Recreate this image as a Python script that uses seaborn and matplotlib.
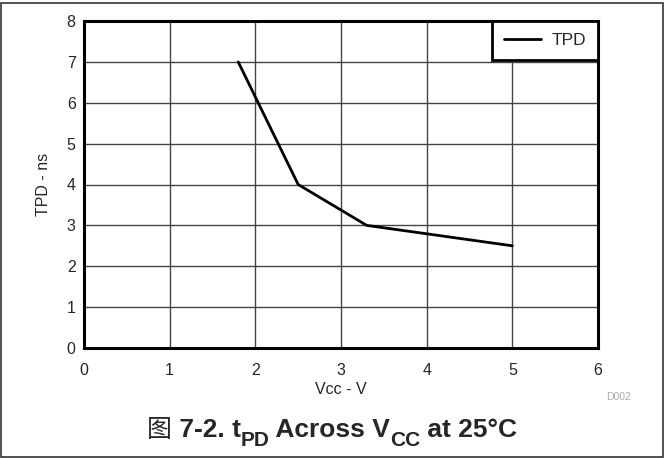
import pandas as pd
import seaborn as sns
import matplotlib.pyplot as plt
from matplotlib.patches import Rectangle

vcc = [1.8, 2.5, 3.3, 5.0]
tpd = [7.0, 4.0, 3.0, 2.5]
x_ticks = [0, 1, 2, 3, 4, 5, 6]
y_ticks = [0, 1, 2, 3, 4, 5, 6, 7, 8]

df = pd.DataFrame({'Vcc': vcc, 'TPD': tpd})

sns.set_style('white')
plt.rcParams['font.family'] = ['Liberation Sans', 'Noto Sans CJK SC']

fig = plt.figure(figsize=(6.64, 4.58), dpi=100)
ax = fig.add_axes([84 / 664, 1 - 348 / 458, 514 / 664, 327 / 458])

sns.lineplot(df, x='Vcc', y='TPD', ax=ax, color='black', linewidth=2, label='TPD')

ax.set_xlim(0, 6)
ax.set_ylim(0, 8)
ax.set_xticks(x_ticks)
ax.set_yticks(y_ticks)
ax.grid(True, color='#444444', linewidth=1)
ax.tick_params(length=0, labelsize=11.5)
ax.tick_params(axis='x', pad=11)
ax.tick_params(axis='y', pad=6)
for s in ax.spines.values():
    s.set_linewidth(2.2)
    s.set_color('black')

ax.set_xlabel('Vcc - V', fontsize=11.5, labelpad=3)
ax.set_ylabel('TPD - ns', fontsize=11.5, labelpad=11)

leg = ax.legend(loc='upper right', borderaxespad=0, fancybox=False, framealpha=1,
                edgecolor='black', fontsize=12.5, handlelength=2.1, borderpad=0.7,
                handletextpad=0.6)
leg.get_frame().set_linewidth(2)

fig.text(619 / 664, 1 - 397 / 458, 'D002', fontsize=7.5, color='#aaaaaa',
         ha='center', va='center')

# title built from pieces: (text, size, baseline drop in px)
pieces = [('图', 18, 0), (' 7-2. t', 19, 0), ('PD', 15, 9),
          (' Across V', 19, 0), ('CC', 15, 9), (' at 25°C', 19, 0)]
base = 437
r = fig.canvas.get_renderer()
texts = []
for s, size, dy in pieces:
    t = fig.text(0, 1 - (base + dy) / 458, s, fontsize=size, fontweight='bold',
                 ha='left', va='baseline')
    if s == '图':
        t.set_family('Noto Sans CJK SC')
        t.set_fontweight('normal')
    texts.append(t)
widths = [t.get_window_extent(r).width for t in texts]
x = (664 - sum(widths)) / 2
for t, w in zip(texts, widths):
    t.set_x(x / 664)
    x += w

fig.patches.append(Rectangle((0.002, 0.003), 0.996, 0.99, transform=fig.transFigure,
                             fill=False, edgecolor='#333333', linewidth=1.2))

fig.savefig('out.png', dpi=100)
